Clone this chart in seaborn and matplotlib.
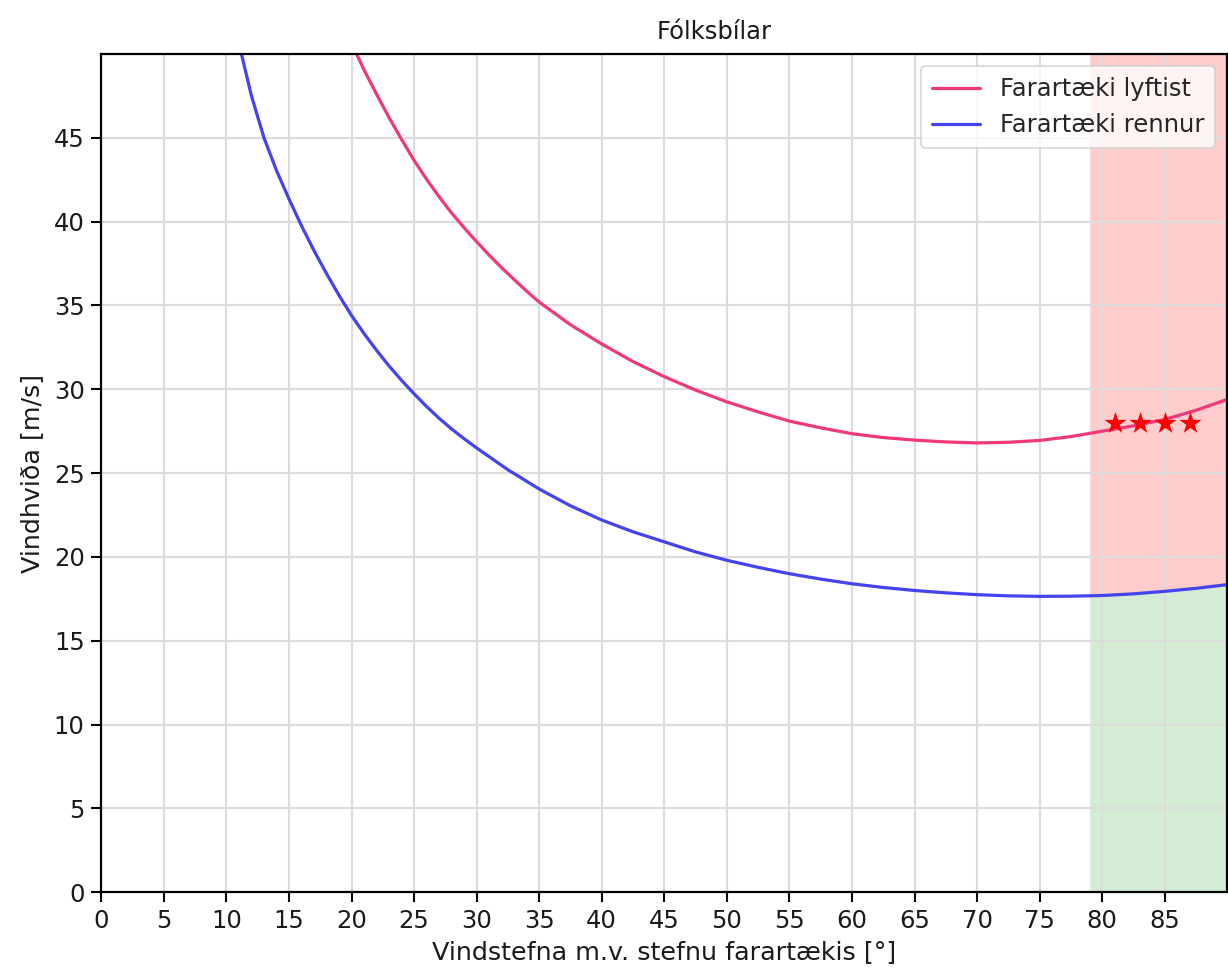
import numpy as np
import pandas as pd
import matplotlib
matplotlib.use("Agg")
import matplotlib.pyplot as plt
import seaborn as sns

# ---- data ----
lift_angle = [20.4, 21, 22, 23, 24, 25, 26, 27, 28, 29, 30, 31, 32, 33, 34, 35, 37.5, 40, 42.5,
              45, 47.5, 50, 52.5, 55, 57.5, 60, 62.5, 65, 67.5, 70, 72.5, 75, 77.5, 80, 82.5,
              85, 87.5, 90]
lift_speed = [50.0, 49.05, 47.6, 46.2, 44.9, 43.65, 42.52, 41.48, 40.51, 39.63, 38.8, 38.0, 37.25,
              36.54, 35.85, 35.2, 33.85, 32.7, 31.65, 30.75, 29.95, 29.25, 28.65, 28.1, 27.7,
              27.35, 27.12, 26.97, 26.86, 26.8, 26.84, 26.95, 27.18, 27.5, 27.82, 28.2, 28.75, 29.4]

slide_angle = [11.2, 12, 13, 14, 15, 16, 17, 18, 19, 20, 21, 22, 23, 24, 25, 26, 27, 28, 29, 30,
               32.5, 35, 37.5, 40, 42.5, 45, 47.5, 50, 52.5, 55, 57.5, 60, 62.5, 65, 67.5, 70,
               72.5, 75, 77.5, 80, 82.5, 85, 87.5, 90]
slide_speed = [50.0, 47.5, 45.0, 43.05, 41.35, 39.75, 38.27, 36.9, 35.6, 34.4, 33.32, 32.32, 31.39,
               30.53, 29.73, 28.97, 28.27, 27.63, 27.05, 26.5, 25.2, 24.05, 23.05, 22.2, 21.5,
               20.9, 20.3, 19.8, 19.38, 19.0, 18.68, 18.4, 18.18, 18.0, 17.86, 17.75, 17.68,
               17.65, 17.66, 17.7, 17.8, 17.95, 18.13, 18.35]

zone_angle = [79, 80, 82.5, 85, 87.5, 90]
zone_slide = [17.68, 17.7, 17.8, 17.95, 18.13, 18.35]
zone_top = 50

star_angle = [81, 83, 85, 87]
star_speed = [28, 28, 28, 28]

labels = ["Farartæki lyftist", "Farartæki rennur"]
title = "Fólksbílar"
xlabel = "Vindstefna m.v. stefnu farartækis [°]"
ylabel = "Vindhviða [m/s]"
xticks = list(range(0, 90, 5))
yticks = list(range(0, 50, 5))

# ---- plotting ----
sns.set_theme(style="white")
plt.rcParams['font.family'] = ['DejaVu Sans']

FS = 17.5
LFS = 18.3
fig = plt.figure(figsize=(12.28, 9.72), dpi=100)
ax = fig.add_axes([0.0825, 0.082, 0.917, 0.8625])

ax.fill_between(zone_angle, zone_slide, zone_top, color="red", alpha=0.2, linewidth=0, zorder=0)
ax.fill_between(zone_angle, 0, zone_slide, color="tab:green", alpha=0.2, linewidth=0, zorder=0)

df_lift = pd.DataFrame({"angle": lift_angle, "speed": lift_speed})
df_slide = pd.DataFrame({"angle": slide_angle, "speed": slide_speed})
sns.lineplot(data=df_lift, x="angle", y="speed", ax=ax, color="#f0387a", linewidth=2.3,
             label=labels[0], sort=False)
sns.lineplot(data=df_slide, x="angle", y="speed", ax=ax, color="#4343f0", linewidth=2.3,
             label=labels[1], sort=False)

df_star = pd.DataFrame({"angle": star_angle, "speed": star_speed})
sns.scatterplot(data=df_star, x="angle", y="speed", ax=ax, marker="*", color="red",
                s=280, linewidth=0, zorder=5, legend=False)

ax.set_xlim(0, 90)
ax.set_ylim(0, 50)
ax.set_xticks(xticks)
ax.set_yticks(yticks)
ax.grid(True, color="#dcdcdc", linewidth=1.5)
ax.set_axisbelow(True)
for sp in ax.spines.values():
    sp.set_color("black")
    sp.set_linewidth(1.6)
ax.tick_params(axis="both", direction="out", length=7, width=1.5, color="black",
               labelsize=FS, labelcolor="#1a1a1a", bottom=True, left=True, pad=5)

ax.set_title(title, fontsize=17.5, pad=11, color="#1a1a1a", x=0.544)
ax.set_xlabel(xlabel, fontsize=LFS, color="#1a1a1a", labelpad=5)
ax.set_ylabel(ylabel, fontsize=LFS, color="#1a1a1a", labelpad=7)

leg = ax.legend(loc="upper right", fontsize=FS, frameon=True, fancybox=True,
                framealpha=0.8, edgecolor="#cccccc", borderpad=0.45, handlelength=2.0)
leg.get_frame().set_linewidth(1.2)

fig.savefig("out.png", dpi=100)
